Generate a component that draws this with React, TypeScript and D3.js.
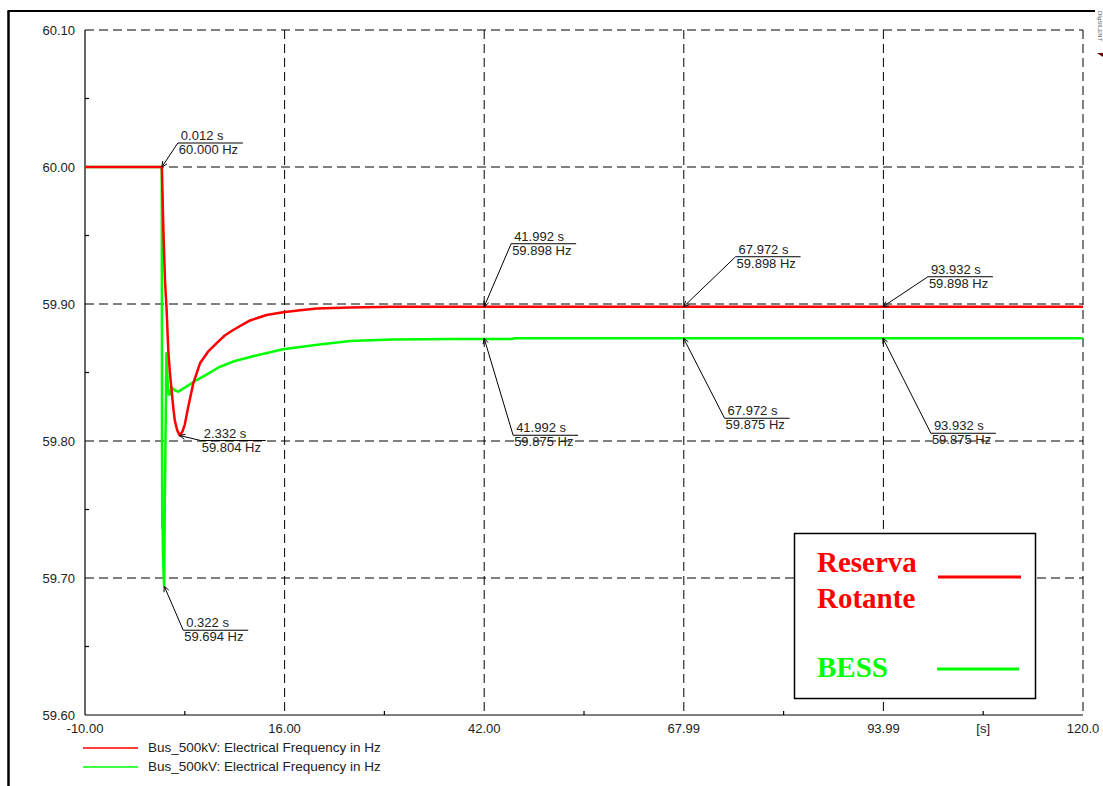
import React from "react";
import * as d3 from "d3";

// frequency traces (time in s, frequency in Hz)
const redTimes = [-10, 0, 0.012, 0.2, 0.42, 0.63, 0.85, 1.06, 1.28, 1.5, 1.7, 2.0, 2.332, 2.7, 3.0, 3.45, 4.1, 5.0, 6.0, 7.15, 8.2, 9.3, 11.5, 13.65, 15.8, 18.0, 20.2, 24.5, 30, 42, 67.97, 93.93, 120];
const redFreq = [60.0, 60.0, 60.0, 59.956, 59.917, 59.896, 59.866, 59.85, 59.837, 59.824, 59.815, 59.808, 59.804, 59.807, 59.812, 59.825, 59.842, 59.857, 59.865, 59.8715, 59.877, 59.881, 59.888, 59.892, 59.894, 59.8955, 59.8968, 59.8975, 59.898, 59.898, 59.898, 59.898, 59.898];

const greenTimes = [-10, 0, 0.03, 0.06, 0.1, 0.15, 0.25, 0.322, 0.4, 0.45, 0.6, 0.75, 0.9, 1.06, 1.28, 1.7, 2.15, 3.0, 4.55, 6.0, 7.5, 9.3, 12.0, 15.8, 20.0, 24.5, 30, 38, 45.5, 46, 67.97, 93.93, 120];
const greenFreq = [60.0, 60.0, 59.8, 59.736, 59.75, 59.72, 59.7, 59.694, 59.76, 59.78, 59.864, 59.845, 59.834, 59.834, 59.839, 59.837, 59.836, 59.839, 59.8445, 59.849, 59.854, 59.858, 59.862, 59.867, 59.870, 59.873, 59.874, 59.8745, 59.8745, 59.875, 59.875, 59.875, 59.875];

// axes
const xTicks = [-10, 16, 42, 68, 94, 120];
const xTickLabels = ["-10.00", "16.00", "42.00", "67.99", "93.99", "120.0"];
const xMinor = [3, 29, 55, 81, 107];
const yTicks = [59.6, 59.7, 59.8, 59.9, 60.0, 60.1];
const yMinor = [59.65, 59.75, 59.85, 59.95, 60.05];

// cursor readouts
const markTimes = [0.012, 2.332, 0.322, 41.992, 41.992, 67.972, 67.972, 93.932, 93.932];
const markFreq = [60.0, 59.804, 59.694, 59.898, 59.875, 59.898, 59.875, 59.898, 59.875];
// where each readout label sits relative to its point (px)
const markOffsets = [[16, -24], [21, 5], [19, 44], [27, -63], [29, 97], [52, -50], [41, 80], [45, -30], [48, 95]];

const seriesNames = ["Reserva Rotante", "BESS"];
const seriesColors = ["#ff0000", "#00ff00"];
const traceLabel = "Bus_500kV: Electrical Frequency in Hz";

const W = 1103;
const H = 786;
const plot = { left: 85, right: 1083, top: 30, bottom: 715 };
const sans = "'Liberation Sans', Arial, sans-serif";
const serif = "'Liberation Serif', 'Times New Roman', serif";

export default function App() {
  const x = d3.scaleLinear().domain([-10, 120]).range([plot.left, plot.right]);
  const y = d3.scaleLinear().domain([59.6, 60.1]).range([plot.bottom, plot.top]);

  const line = d3
    .line<[number, number]>()
    .x((d) => x(d[0]))
    .y((d) => y(d[1]));

  const redPts = redTimes.map((t, i) => [t, redFreq[i]] as [number, number]);
  const greenPts = greenTimes.map((t, i) => [t, greenFreq[i]] as [number, number]);

  return (
    <>
      <style>{`body{margin:0}`}</style>
      <svg width={W} height={H} style={{ display: "block", background: "#fff" }}>
        <defs>
          <clipPath id="plotClip">
            <rect x={plot.left} y={plot.top - 2} width={plot.right - plot.left + 2} height={plot.bottom - plot.top + 2} />
          </clipPath>
        </defs>

        {/* outer frame */}
        <line x1={8.5} y1={11} x2={8.5} y2={H} stroke="#000" strokeWidth={2.5} />
        <line x1={7.5} y1={11} x2={1095} y2={11} stroke="#000" strokeWidth={2} />
        <text transform="translate(1098,11) rotate(90)" fontFamily={sans} fontSize={6} fill="#556">
          DIgSILENT
        </text>
        <path d="M1097,53 L1103,53 L1103,57 Z" fill="#600" />

        {/* dashed grid */}
        <g stroke="#000" strokeWidth={1} strokeDasharray="9,5" fill="none">
          {xTicks.slice(1).map((t) => (
            <line key={"gx" + t} x1={x(t)} x2={x(t)} y1={y(60.1)} y2={y(59.6)} />
          ))}
          {yTicks.slice(1).map((v) => (
            <line key={"gy" + v} x1={x(-10)} x2={x(120)} y1={y(v)} y2={y(v)} />
          ))}
        </g>

        {/* axes */}
        <g stroke="#000" strokeWidth={1.2}>
          <line x1={x(-10)} x2={x(-10)} y1={y(60.1)} y2={y(59.6)} />
          <line x1={x(-10)} x2={x(120)} y1={y(59.6)} y2={y(59.6)} />
          {xMinor.map((t) => (
            <line key={"mx" + t} x1={x(t)} x2={x(t)} y1={y(59.6)} y2={y(59.6) - 4} />
          ))}
          {yMinor.map((v) => (
            <line key={"my" + v} x1={x(-10)} x2={x(-10) + 4} y1={y(v)} y2={y(v)} />
          ))}
        </g>

        <g fontFamily={sans} fontSize={13} fill="#222">
          {yTicks.map((v) => (
            <text key={"ty" + v} x={plot.left - 10} y={y(v)} dy="0.35em" textAnchor="end">
              {v.toFixed(2)}
            </text>
          ))}
          {xTicks.map((t, i) => (
            <text key={"tx" + t} x={x(t)} y={plot.bottom + 18} textAnchor="middle">
              {xTickLabels[i]}
            </text>
          ))}
          <text x={x(107)} y={plot.bottom + 18} textAnchor="middle">
            [s]
          </text>
        </g>

        {/* traces */}
        <g clipPath="url(#plotClip)" fill="none" strokeWidth={2.5} strokeLinejoin="round">
          <path d={line(greenPts) || ""} stroke={seriesColors[1]} />
          <path d={line(redPts) || ""} stroke={seriesColors[0]} />
        </g>

        {/* readouts */}
        <g fontFamily={sans} fontSize={13} fill="#222">
          {markTimes.map((t, i) => {
            const px = x(t);
            const py = y(markFreq[i]);
            const ux = px + markOffsets[i][0];
            const uy = py + markOffsets[i][1];
            const ang = Math.atan2(uy - py, ux - px);
            const head = [ang - 0.45, ang + 0.45].map((a) => [px + 6 * Math.cos(a), py + 6 * Math.sin(a)]);
            return (
              <g key={"m" + i}>
                <line x1={px} y1={py} x2={ux} y2={uy} stroke="#000" strokeWidth={1} />
                <path d={`M${head[0][0]},${head[0][1]} L${px},${py} L${head[1][0]},${head[1][1]}`} stroke="#000" fill="none" strokeWidth={1} />
                <line x1={ux} y1={uy} x2={ux + 65} y2={uy} stroke="#000" strokeWidth={1} />
                <text x={ux + 3} y={uy - 3}>{`${t.toFixed(3)} s`}</text>
                <text x={ux + 1} y={uy + 11}>{`${markFreq[i].toFixed(3)} Hz`}</text>
              </g>
            );
          })}
        </g>

        {/* boxed legend */}
        <rect x={794.5} y={533.5} width={241} height={165} fill="#fff" stroke="#000" strokeWidth={1.5} />
        <g fontFamily={serif} fontWeight="bold" fontSize={29}>
          <text x={817} y={572} fill={seriesColors[0]}>{seriesNames[0].split(" ")[0]}</text>
          <text x={817} y={608} fill={seriesColors[0]}>{seriesNames[0].split(" ")[1]}</text>
          <text x={817} y={677} fill={seriesColors[1]}>{seriesNames[1]}</text>
        </g>
        <line x1={938} x2={1021} y1={577} y2={577} stroke={seriesColors[0]} strokeWidth={3} />
        <line x1={937} x2={1019} y1={669} y2={669} stroke={seriesColors[1]} strokeWidth={3} />

        {/* trace legend below the axis */}
        {seriesColors.map((c, i) => (
          <line key={"legl" + i} x1={83} x2={138} y1={748 + i * 19} y2={748 + i * 19} stroke={c} strokeWidth={1.5} />
        ))}
        <g fontFamily={sans} fontSize={13.5} fill="#222">
          {seriesColors.map((c, i) => (
            <text key={"legt" + i} x={148} y={752 + i * 19}>{traceLabel}</text>
          ))}
        </g>
      </svg>
    </>
  );
}
